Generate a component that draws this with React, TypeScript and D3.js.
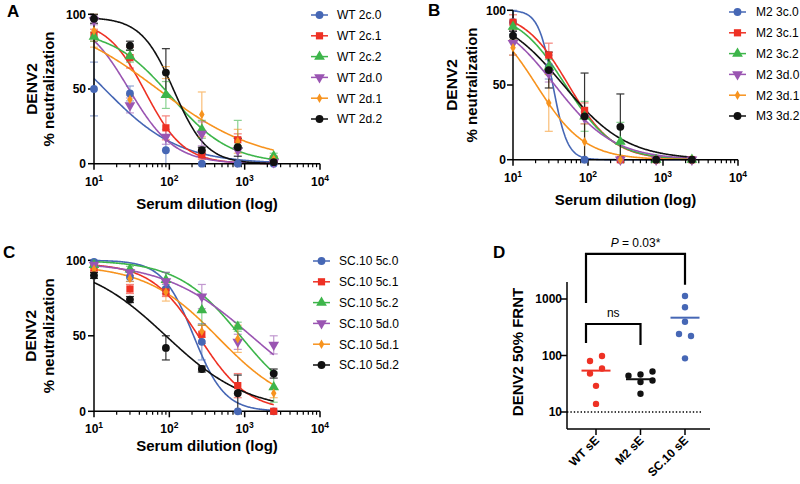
import React from "react";
import * as d3 from "d3";

// ---------- shared ----------
const dilutions = [10, 30, 90, 270, 810, 2430];
const xTickValues = [10, 100, 1000, 10000];
const xTickExponents = ["1", "2", "3", "4"];
const yTickValues = [0, 50, 100];

const colors = ["#4667b5", "#ee3124", "#3db54a", "#9a55b2", "#f7931e", "#111111"];
const shapes = ["circle", "square", "triangle", "triangleDown", "diamond", "circle"];

// ---------- panel A ----------
const namesA = ["WT 2c.0", "WT 2c.1", "WT 2c.2", "WT 2d.0", "WT 2d.1", "WT 2d.2"];
const valuesA = [
  [50, 47, 9, 0, 0, 0],
  [86, 71, 24, 6, 16, 3],
  [85, 72, 46, 23, 12, 5],
  [96, 39, 18, 20, 9, 1],
  [89, 43, 61, 33, 15, 3],
  [97, 79, 61, 9, 11, 1],
];
const errorsA = [
  [18, 5, 10, 0, 0, 0],
  [4, 7, 8, 3, 4, 2],
  [3, 4, 9, 6, 17, 2],
  [3, 5, 5, 8, 8, 1],
  [11, 3, 4, 15, 8, 2],
  [3, 3, 16, 2, 6, 1],
];
// [top, IC50, hill]
const fitsA = [
  [100, 13.8, 0.88],
  [96, 48, 1.7],
  [90, 105, 1.1],
  [100, 29, 1.45],
  [100, 70, 0.65],
  [98, 115, 2.0],
];

// ---------- panel B ----------
const namesB = ["M2 3c.0", "M2 3c.1", "M2 3c.2", "M2 3d.0", "M2 3d.1", "M3 3d.2"];
const valuesB = [
  [92, 62, 0, 0, 0, 0],
  [92, 70, 33, 0, 0, 0],
  [89, 62, 29, 12, 0, 0],
  [78, 58, 28, 0, 0, 0],
  [75, 38, 12, 0, 0, 0],
  [83, 60, 29, 22, 0, 0],
];
const errorsB = [
  [8, 8, 0, 0, 0, 0],
  [5, 8, 5, 0, 0, 0],
  [3, 5, 10, 13, 0, 0],
  [8, 6, 4, 0, 0, 0],
  [5, 19, 12, 0, 0, 0],
  [3, 12, 29, 22, 0, 0],
];
const fitsB = [
  [100, 34, 4.5],
  [100, 55, 1.45],
  [100, 50, 1.35],
  [100, 36, 1.1],
  [100, 20.5, 1.35],
  [100, 47, 1.03],
];

// ---------- panel C ----------
const namesC = ["SC.10 5c.0", "SC.10 5c.1", "SC.10 5c.2", "SC.10 5d.0", "SC.10 5d.1", "SC.10 5d.2"];
const valuesC = [
  [99, 89, 81, 46, 0, 0],
  [95, 81, 79, 51, 17, 0],
  [97, 94, 87, 67, 56, 16],
  [97, 92, 86, 76, 46, 44],
  [94, 88, 79, 53, 48, 12],
  [90, 74, 42, 28, 12, 25],
];
const errorsC = [
  [1, 3, 3, 12, 0, 0],
  [2, 3, 3, 6, 8, 0],
  [2, 2, 5, 10, 3, 10],
  [2, 2, 6, 8, 5, 6],
  [2, 2, 6, 4, 9, 3],
  [2, 2, 8, 2, 12, 3],
];
const fitsC = [
  [100, 210, 2.1],
  [98, 250, 1.35],
  [100, 875, 1.05],
  [99, 1250, 0.75],
  [97, 450, 0.9],
  [100, 90, 0.8],
];

// ---------- panel D ----------
const groupsD = ["WT sE", "M2 sE", "SC.10 sE"];
const wtD = [98, 80, 59, 48, 29, 13.9];
const m2D = [44, 46, 52, 34, 36, 21];
const scD = [1130, 713, 396, 240, 221, 89];
const mediansD = [54, 38, 467];
const slotsWT = [1, -1, 1, -1, 0, 0];
const slotsM2 = [-2, 0, 2, 0, 2, 0];
const slotsSC = [0, 0, 0, -1, 1, 0];
const colorsD = ["#ee3124", "#111111", "#4667b5"];
const dTicks = [10, 100, 1000];
const limitD = 10;
const pLabel = "0.03*";

const FONT = "'Liberation Sans', Arial, Helvetica, sans-serif";

function Marker({ shape, x, y, color }: any) {
  const types: any = {
    circle: d3.symbolCircle,
    square: d3.symbolSquare,
    triangle: d3.symbolTriangle,
    triangleDown: d3.symbolTriangle,
    diamond: d3.symbolDiamond,
  };
  const sizes: any = { circle: 48, square: 52, triangle: 50, triangleDown: 50, diamond: 26 };
  const p = d3.symbol().type(types[shape]).size(sizes[shape])() as string;
  return (
    <path
      d={p}
      transform={`translate(${x},${y})${shape === "triangleDown" ? " rotate(180)" : ""}`}
      fill={color}
    />
  );
}

function CurvePanel(props: any) {
  const {
    letter, letterX, letterY, x0, x1, yTop, yBot, names, values, errors, fits,
    legLineX, legTextX, legY0, yLab1X, yLab2X, yTickX, xLabY,
  } = props;
  const x = d3.scaleLog().domain([10, 10000]).range([x0, x1]);
  const y = d3.scaleLinear().domain([0, 100]).range([yBot, yTop]);
  const minor: number[] = [];
  for (let e = 1; e < 4; e++) for (let k = 2; k <= 9; k++) minor.push(k * Math.pow(10, e));
  const samples = d3.range(0, 241).map((i) => 10 * Math.pow(2430 / 10, i / 240));
  const curvePath = (f: number[]) =>
    d3
      .line<number>()
      .x((d) => x(d))
      .y((d) => y(f[0] / (1 + Math.pow(d / f[1], f[2]))))(samples) as string;
  const cy = (yTop + yBot) / 2;
  const order = [0, 1, 2, 3, 4, 5];
  return (
    <g fontFamily={FONT}>
      <text x={letterX} y={letterY} fontSize={17} fontWeight="bold">{letter}</text>
      {/* curves */}
      {order.map((i) => (
        <path key={"c" + i} d={curvePath(fits[i])} fill="none" stroke={colors[i]} strokeWidth={1.6} />
      ))}
      {/* error bars */}
      {order.map((i) =>
        dilutions.map((dv, j) => {
          const e = errors[i][j];
          if (!e) return null;
          const v = values[i][j];
          const lo = Math.max(0, v - e);
          const hi = v + e;
          const xx = x(dv);
          return (
            <g key={"e" + i + "-" + j} stroke={colors[i]} strokeWidth={1.2} opacity={i === 5 ? 0.85 : 0.6}>
              <line x1={xx} x2={xx} y1={y(lo)} y2={y(hi)} />
              <line x1={xx - 4} x2={xx + 4} y1={y(hi)} y2={y(hi)} />
              {lo > 0 && <line x1={xx - 4} x2={xx + 4} y1={y(lo)} y2={y(lo)} />}
            </g>
          );
        })
      )}
      {/* axes */}
      <g stroke="#000" strokeWidth={1.5}>
        <line x1={x0} x2={x1} y1={yBot} y2={yBot} />
        <line x1={x0} x2={x0} y1={yBot} y2={yTop} />
        {xTickValues.map((t) => (
          <line key={"xt" + t} x1={x(t)} x2={x(t)} y1={yBot} y2={yBot + 6} />
        ))}
        {minor.map((t) => (
          <line key={"xm" + t} x1={x(t)} x2={x(t)} y1={yBot} y2={yBot + 3.5} strokeWidth={1.2} />
        ))}
        {yTickValues.map((t) => (
          <line key={"yt" + t} x1={x0 - 6} x2={x0} y1={y(t)} y2={y(t)} />
        ))}
      </g>
      {/* points */}
      {order.map((i) =>
        dilutions.map((dv, j) => (
          <Marker key={"p" + i + "-" + j} shape={shapes[i]} x={x(dv)} y={y(values[i][j])} color={colors[i]} />
        ))
      )}
      {yTickValues.map((t) => (
        <text key={"yl" + t} x={yTickX} y={y(t)} dy="0.35em" textAnchor="end" fontSize={12} fontWeight="bold">
          {t}
        </text>
      ))}
      {xTickValues.map((t, k) => (
        <text key={"xl" + t} x={x(t)} y={yBot + 22} textAnchor="middle" fontSize={12} fontWeight="bold">
          10<tspan dy={-5} fontSize={8.5}>{xTickExponents[k]}</tspan>
        </text>
      ))}
      <text transform={`translate(${yLab1X},${cy}) rotate(-90)`} dy="0.35em" textAnchor="middle" fontSize={15.5} fontWeight="bold">
        DENV2
      </text>
      <text transform={`translate(${yLab2X},${cy}) rotate(-90)`} dy="0.35em" textAnchor="middle" fontSize={15} fontWeight="bold">
        % neutralization
      </text>
      <text x={(x0 + x1) / 2} y={xLabY} textAnchor="middle" fontSize={15} fontWeight="bold">
        Serum dilution (log)
      </text>
      {/* legend */}
      {names.map((n: string, i: number) => {
        const ly = legY0 + i * 20.8;
        return (
          <g key={"lg" + i}>
            <line x1={legLineX} x2={legLineX + 17} y1={ly} y2={ly} stroke={colors[i]} strokeWidth={1.5} />
            <Marker shape={shapes[i]} x={legLineX + 8.5} y={ly} color={colors[i]} />
            <text x={legTextX} y={ly} dy="0.36em" fontSize={12}>{n}</text>
          </g>
        );
      })}
    </g>
  );
}

function PanelD() {
  const y = d3.scaleLog().domain([5, 2000]).range([429, 282]);
  const x = d3.scalePoint<string>().domain(groupsD).range([596, 685]);
  const ax0 = 567;
  const ax1 = 710;
  const groupsVals = [wtD, m2D, scD];
  const slots = [slotsWT, slotsM2, slotsSC];
  const xs = groupsD.map((g) => x(g) as number);
  return (
    <g fontFamily={FONT}>
      <text x={493} y={258} fontSize={17} fontWeight="bold">D</text>
      {/* limit line */}
      <line x1={ax0} x2={702} y1={y(limitD)} y2={y(limitD)} stroke="#000" strokeWidth={1.4} strokeDasharray="1.4,2" />
      <g stroke="#000" strokeWidth={1.5}>
        <line x1={ax0} x2={ax0} y1={429} y2={282} />
        <line x1={ax0} x2={ax1} y1={429} y2={429} />
        {dTicks.map((t) => (
          <line key={"dt" + t} x1={ax0 - 6} x2={ax0} y1={y(t)} y2={y(t)} />
        ))}
        {xs.map((xx, i) => (
          <line key={"dx" + i} x1={xx} x2={xx} y1={429} y2={435} />
        ))}
      </g>
      {dTicks.map((t) => (
        <text key={"dl" + t} x={ax0 - 5} y={y(t)} dy="0.35em" textAnchor="end" fontSize={12} fontWeight="bold">
          {t}
        </text>
      ))}
      {groupsD.map((g, i) => (
        <text
          key={"dg" + i}
          transform={`translate(${xs[i] + 4},${441}) rotate(-45)`}
          textAnchor="end"
          fontSize={12}
          fontWeight="bold"
        >
          {g}
        </text>
      ))}
      <text transform={`translate(518,352) rotate(-90)`} dy="0.35em" textAnchor="middle" fontSize={15} fontWeight="bold">
        DENV2 50% FRNT
      </text>
      {/* points */}
      {groupsVals.map((vals, gi) =>
        vals.map((v, j) => (
          <circle key={"pt" + gi + "-" + j} cx={xs[gi] + slots[gi][j] * 6} cy={y(v)} r={3.2} fill={colorsD[gi]} />
        ))
      )}
      {mediansD.map((m, gi) => (
        <line key={"md" + gi} x1={xs[gi] - 14.5} x2={xs[gi] + 14.5} y1={y(m)} y2={y(m)} stroke={colorsD[gi]} strokeWidth={2} />
      ))}
      {/* significance brackets */}
      <g fill="none" stroke="#000" strokeWidth={2.2}>
        <path d={`M${xs[0] - 10},${y(850)} V${y(6300)} H${xs[2]} V${y(1780)}`} />
        <path d={`M${xs[0] - 10},${y(166)} V${y(361)} H${xs[1]} V${y(153)}`} />
      </g>
      <text x={(xs[0] - 10 + xs[2]) / 2} y={247} textAnchor="middle" fontSize={12}>
        <tspan fontStyle="italic">P</tspan> = {pLabel}
      </text>
      <text x={(xs[0] - 10 + xs[1]) / 2} y={317} textAnchor="middle" fontSize={12}>
        ns
      </text>
    </g>
  );
}

export default function App() {
  return (
    <svg
      width={800}
      height={484}
      viewBox="0 0 800 484"
      style={{ position: "absolute", left: 0, top: 0, background: "#fff" }}
    >
      <rect width={800} height={484} fill="#fff" />
      <CurvePanel
        letter="A" letterX={7} letterY={17}
        x0={94} x1={320} yTop={14.3} yBot={163.7}
        names={namesA} values={valuesA} errors={errorsA} fits={fitsA}
        legLineX={311} legTextX={337} legY0={15}
        yLab1X={32} yLab2X={48.5} yTickX={86} xLabY={209}
      />
      <CurvePanel
        letter="B" letterX={428} letterY={16}
        x0={513} x1={738} yTop={10.3} yBot={159.7}
        names={namesB} values={valuesB} errors={errorsB} fits={fitsB}
        legLineX={729} legTextX={756} legY0={12}
        yLab1X={452} yLab2X={472} yTickX={506} xLabY={205}
      />
      <CurvePanel
        letter="C" letterX={3} letterY={258}
        x0={94} x1={320} yTop={260.3} yBot={411.3}
        names={namesC} values={valuesC} errors={errorsC} fits={fitsC}
        legLineX={313} legTextX={339} legY0={261}
        yLab1X={31} yLab2X={48.5} yTickX={86} xLabY={451}
      />
      <PanelD />
    </svg>
  );
}
